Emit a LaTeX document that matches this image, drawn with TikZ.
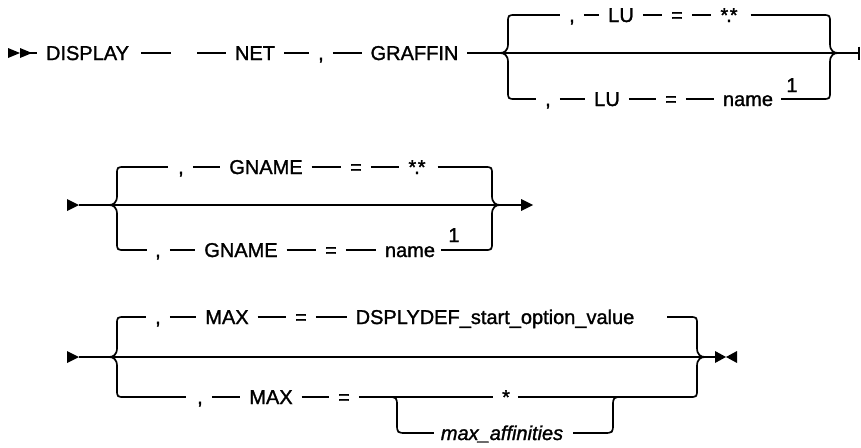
\documentclass[tikz,border=0pt]{standalone}
\usepackage{fontspec}
\setmainfont{Liberation Sans}[FakeBold=1.4]
\begin{document}
\begin{tikzpicture}[x=1pt,y=-1pt,
  ln/.style={line width=1.7pt},
  seg/.style={ln, shorten <=9pt, shorten >=9pt},
  tok/.style={inner sep=0pt, outer sep=0pt, text height=14pt, text depth=0pt, font=\fontsize{20}{22}\selectfont},
  itok/.style={tok, font=\fontsize{20}{22}\selectfont\itshape},
  tipfill/.style={fill=black, draw=none}
]
\useasboundingbox (0,0) rectangle (861,447);

% ---------------- Row 1 ----------------
\coordinate (start1) at (20,53);
\fill[tipfill] (8,48) -- (20,53) -- (8,58) -- cycle;
\fill[tipfill] (20,48) -- (32,53) -- (20,58) -- cycle;
\node[tok] (display) at (87.5,53) {DISPLAY};
\coordinate (gap1) at (184,53);
\node[tok] (net) at (255,53) {NET};
\node[tok] (c1) at (321,53) {,};
\node[tok] (graffin) at (414.5,53) {GRAFFIN};
\draw[ln, shorten >=9pt] (start1) -- (display.west);
\draw[ln, shorten <=12pt, shorten >=13pt] (display.east) -- (gap1);
\draw[ln, shorten <=13pt, shorten >=9pt] (gap1) -- (net.west);
\draw[seg] (net.east) -- (c1.west);
\draw[seg] (c1.east) -- (graffin.west);

\coordinate (b1c) at (500,53);
\coordinate (b1rc) at (838,53);
\coordinate (end1) at (859,53);
\draw[ln, shorten <=9pt] (graffin.east) -- (b1c) -- (b1rc) -- (end1);
\draw[ln] (859,46.5) -- (859,59.5);
% braces
\draw[ln] (516,15) .. controls (508,15) .. (508,23) -- (508,44) .. controls (508,51) and (504,53) .. (b1c)
          .. controls (504,53) and (508,55) .. (508,62) -- (508,91) .. controls (508,99) .. (516,99);
\draw[ln] (822,15) .. controls (830,15) .. (830,23) -- (830,44) .. controls (830,51) and (834,53) .. (b1rc)
          .. controls (834,53) and (830,55) .. (830,62) -- (830,91) .. controls (830,99) .. (822,99);
\coordinate (b1tl) at (516,15); \coordinate (b1tr) at (822,15);
\coordinate (b1bl) at (516,99); \coordinate (b1br) at (822,99);
% top branch
\node[tok] (t1c) at (572,15) {,};
\node[tok] (t1lu) at (621,15) {LU};
\node[tok] (t1eq) at (677,15) {=};
\node[tok] (t1st) at (729,15) {*\kern-2pt.\kern-2pt*};
\draw[ln, shorten >=9pt] (b1tl) -- (t1c.west);
\draw[seg] (t1c.east) -- (t1lu.west);
\draw[seg] (t1lu.east) -- (t1eq.west);
\draw[seg] (t1eq.east) -- (t1st.west);
\draw[ln, shorten <=13pt] (t1st.east) -- (b1tr);
% bottom branch
\node[tok] (u1c) at (548,99) {,};
\node[tok] (u1lu) at (607,99) {LU};
\node[tok] (u1eq) at (671,99) {=};
\node[tok] (u1nm) at (748,99) {name};
\node[tok] (u1sup) at (792,85) {1};
\draw[ln, shorten >=9pt] (b1bl) -- (u1c.west);
\draw[seg] (u1c.east) -- (u1lu.west);
\draw[seg] (u1lu.east) -- (u1eq.west);
\draw[seg] (u1eq.east) -- (u1nm.west);
\draw[ln, shorten <=8pt] (u1nm.east) -- (b1br);

% ---------------- Row 2 ----------------
\coordinate (start2) at (79,205);
\fill[tipfill] (67,199) -- (79,205) -- (67,211) -- cycle;
\coordinate (b2c) at (109,205);
\coordinate (b2rc) at (500,205);
\coordinate (end2) at (522,205);
\draw[ln] (start2) -- (b2c) -- (b2rc) -- (end2);
\fill[tipfill] (521,199) -- (533,205) -- (521,211) -- cycle;
\draw[ln] (125,167) .. controls (117,167) .. (117,175) -- (117,196) .. controls (117,203) and (113,205) .. (b2c)
          .. controls (113,205) and (117,207) .. (117,214) -- (117,242) .. controls (117,250) .. (125,250);
\draw[ln] (484,167) .. controls (492,167) .. (492,175) -- (492,196) .. controls (492,203) and (496,205) .. (b2rc)
          .. controls (496,205) and (492,207) .. (492,214) -- (492,242) .. controls (492,250) .. (484,250);
\coordinate (b2tl) at (125,167); \coordinate (b2tr) at (484,167);
\coordinate (b2bl) at (125,250); \coordinate (b2br) at (484,250);
% top
\node[tok] (t2c) at (181,167) {,};
\node[tok] (t2gn) at (266,167) {GNAME};
\node[tok] (t2eq) at (356,167) {=};
\node[tok] (t2st) at (417,167) {*\kern-2pt.\kern-2pt*};
\draw[ln, shorten >=10pt] (b2tl) -- (t2c.west);
\draw[seg] (t2c.east) -- (t2gn.west);
\draw[seg] (t2gn.east) -- (t2eq.west);
\draw[seg] (t2eq.east) -- (t2st.west);
\draw[ln, shorten <=12pt] (t2st.east) -- (b2tr);
% bottom
\node[tok] (u2c) at (158,250) {,};
\node[tok] (u2gn) at (241,250) {GNAME};
\node[tok] (u2eq) at (331,250) {=};
\node[tok] (u2nm) at (410,250) {name};
\node[tok] (u2sup) at (454,235) {1};
\draw[ln, shorten >=8pt] (b2bl) -- (u2c.west);
\draw[seg] (u2c.east) -- (u2gn.west);
\draw[seg] (u2gn.east) -- (u2eq.west);
\draw[seg] (u2eq.east) -- (u2nm.west);
\draw[ln, shorten <=6pt] (u2nm.east) -- (b2br);

% ---------------- Row 3 ----------------
\coordinate (start3) at (79,357);
\fill[tipfill] (67,351) -- (79,357) -- (67,363) -- cycle;
\coordinate (b3c) at (109,357);
\coordinate (b3rc) at (705,357);
\coordinate (end3) at (716,357);
\draw[ln] (start3) -- (b3c) -- (b3rc) -- (end3);
\fill[tipfill] (715,351) -- (726,357) -- (715,363) -- cycle;
\fill[tipfill] (737,351) -- (726,357) -- (737,363) -- cycle;
\draw[ln] (125,317) .. controls (117,317) .. (117,325) -- (117,348) .. controls (117,355) and (113,357) .. (b3c)
          .. controls (113,357) and (117,359) .. (117,366) -- (117,389) .. controls (117,397) .. (125,397);
\draw[ln] (689,317) .. controls (697,317) .. (697,325) -- (697,348) .. controls (697,355) and (701,357) .. (b3rc)
          .. controls (701,357) and (697,359) .. (697,366) -- (697,389) .. controls (697,397) .. (689,397);
\coordinate (b3tl) at (125,317); \coordinate (b3tr) at (689,317);
\coordinate (b3bl) at (125,397); \coordinate (b3br) at (689,397);
% top
\node[tok] (t3c) at (158,317) {,};
\node[tok] (t3mx) at (227,317) {MAX};
\node[tok] (t3eq) at (301,317) {=};
\node[tok] (t3val) at (495,317) {DSPLYDEF\_start\_option\_value};
\coordinate (t3ls) at (667,317);
\draw[ln, shorten >=9pt] (b3tl) -- (t3c.west);
\draw[seg] (t3c.east) -- (t3mx.west);
\draw[seg] (t3mx.east) -- (t3eq.west);
\draw[seg] (t3eq.east) -- (t3val.west);
\draw[ln] (t3ls) -- (b3tr);
% bottom
\node[tok] (u3c) at (200,397) {,};
\node[tok] (u3mx) at (271,397) {MAX};
\node[tok] (u3eq) at (344,397) {=};
\node[tok] (u3st) at (506,397) {*};
\draw[ln, shorten >=11pt] (b3bl) -- (u3c.west);
\draw[seg] (u3c.east) -- (u3mx.west);
\draw[seg] (u3mx.east) -- (u3eq.west);
\draw[seg] (u3eq.east) -- (u3st.west);
\draw[ln, shorten <=8pt] (u3st.east) -- (b3br);
% sub-branch
\coordinate (sA) at (387,397);
\coordinate (sB) at (623,397);
\node[itok] (maxaff) at (502,433) {max\_affinities};
\draw[ln, shorten >=7pt] (sA) .. controls (397,397) .. (397,407) -- (397,423) .. controls (397,433) .. (407,433) -- (maxaff.west);
\draw[ln, shorten <=10pt] (maxaff.east) -- (603,433) .. controls (613,433) .. (613,423) -- (613,407) .. controls (613,397) .. (sB);
\end{tikzpicture}
\end{document}
